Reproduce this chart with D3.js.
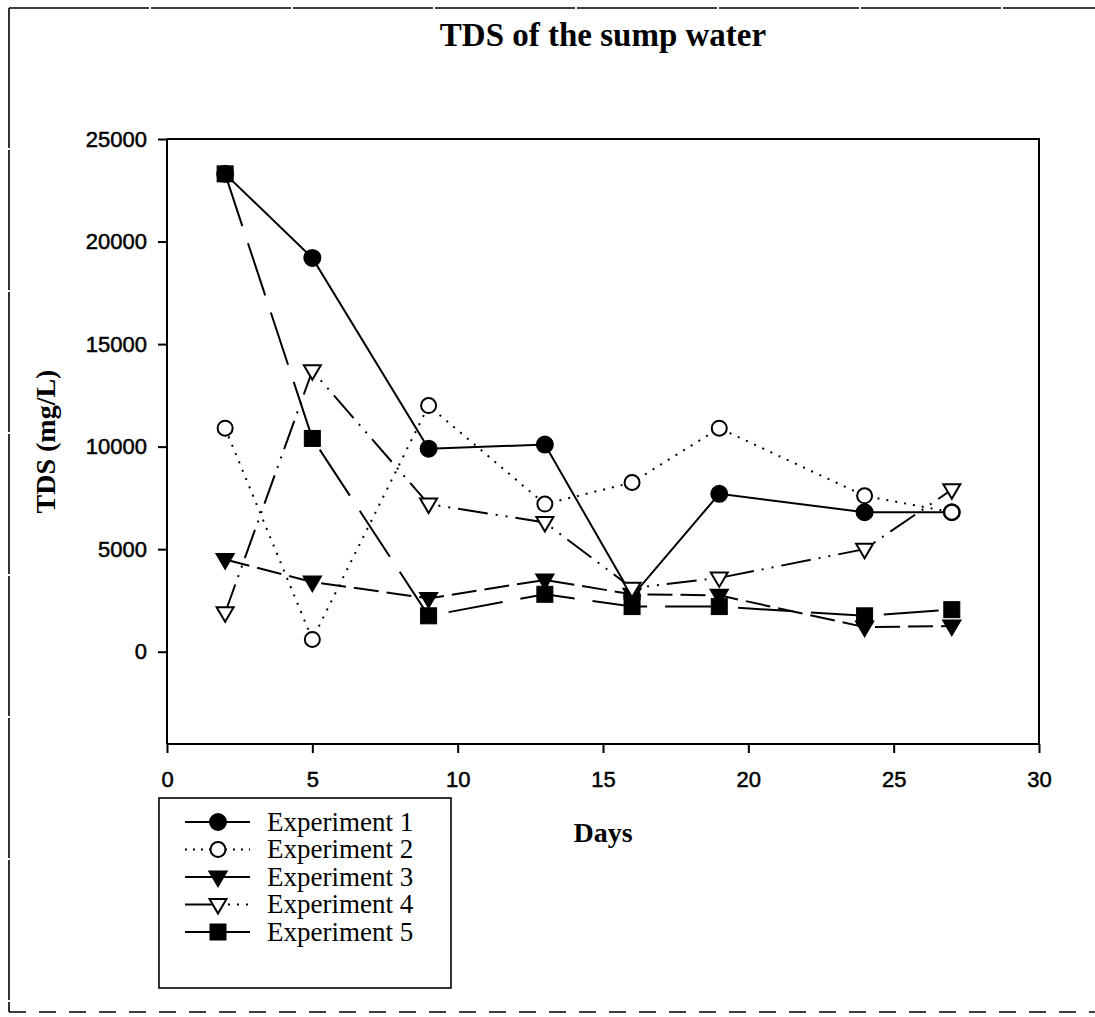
<!DOCTYPE html>
<html>
<head>
<meta charset="utf-8">
<script src="https://cdn.jsdelivr.net/npm/d3@7"></script>
<style>
  html, body { margin: 0; padding: 0; background: #fff; }
  svg { display: block; }
</style>
</head>
<body>
<svg id="chart" width="1095" height="1017"></svg>
<script>
// ---- data ----
const days = [2, 5, 9, 13, 16, 19, 24, 27];
const exp1 = [23300, 19200, 9900, 10100, 2700, 7700, 6800, 6800];
const exp2 = [10900, 600, 12000, 7200, 8250, 10900, 7600, 6800];
const exp3 = [4500, 3400, 2600, 3500, 2800, 2750, 1200, 1250];
const exp4 = [1900, 13700, 7200, 6300, 3100, 3600, 5000, 7900];
const exp5 = [23300, 10400, 1750, 2800, 2200, 2200, 1750, 2050];
const seriesNames = ["Experiment 1", "Experiment 2", "Experiment 3", "Experiment 4", "Experiment 5"];
const xTicks = [0, 5, 10, 15, 20, 25, 30];
const yTicks = [0, 5000, 10000, 15000, 20000, 25000];
const titleText = "TDS of the sump water";
const xLabel = "Days";
const yLabel = "TDS (mg/L)";

// ---- styles ----
const styles = [
  { dash: null,               marker: "circle",   fill: "#000" },
  { dash: "2,7",              marker: "circle",   fill: "#fff" },
  { dash: "25,8",             marker: "triangle", fill: "#000" },
  { dash: "30,8,2,8,2,8",     marker: "triangle", fill: "#fff" },
  { dash: "55,18",            marker: "square",   fill: "#000" }
];
const allSeries = [exp1, exp2, exp3, exp4, exp5];

const svg = d3.select("#chart");
const serif = "'Liberation Serif', 'Times New Roman', serif";
const sans = "'Liberation Sans', Arial, sans-serif";

// outer dashed frame
const frame = svg.append("g").attr("stroke", "#000").attr("stroke-width", 1.6).attr("fill", "none");
frame.append("line").attr("x1", 9).attr("y1", 8).attr("x2", 1095).attr("y2", 8).attr("stroke-dasharray", "140,2");
frame.append("line").attr("x1", 9).attr("y1", 8).attr("x2", 9).attr("y2", 1012).attr("stroke-dasharray", "140,2");
frame.append("line").attr("x1", 9).attr("y1", 1012).attr("x2", 1095).attr("y2", 1012).attr("stroke-dasharray", "17,13");

const L = 167, R = 1039, T = 139, B = 744;
const x = d3.scaleLinear().domain([0, 30]).range([L, R]);
const y = d3.scaleLinear().domain([-4500, 25000]).range([B, T]);

// plot frame (top & right)
svg.append("path")
  .attr("d", `M${L},${T}H${R}V${B}`)
  .attr("fill", "none").attr("stroke", "#000").attr("stroke-width", 2);

// axes
const xAxis = svg.append("g").attr("transform", `translate(0,${B})`)
  .call(d3.axisBottom(x).tickValues(xTicks).tickSize(9).tickPadding(18).tickSizeOuter(0));
const yAxis = svg.append("g").attr("transform", `translate(${L},0)`)
  .call(d3.axisLeft(y).tickValues(yTicks).tickSize(9).tickPadding(11).tickSizeOuter(0).tickFormat(d3.format("d")));
[xAxis, yAxis].forEach(a => {
  a.select(".domain").attr("stroke-width", 2);
  a.selectAll(".tick line").attr("stroke-width", 2);
  a.selectAll(".tick text").attr("font-family", sans).attr("font-size", 22)
    .attr("fill", "#000").attr("stroke", "#000").attr("stroke-width", 0.5);
});
xAxis.select(".domain").attr("d", `M${L},0H${R}`);
yAxis.select(".domain").attr("d", `M0,${B}V${T}`);

// title and labels
svg.append("text").attr("x", (L + R) / 2).attr("y", 46).attr("text-anchor", "middle")
  .attr("font-family", serif).attr("font-weight", "bold").attr("font-size", 33).text(titleText);
svg.append("text").attr("x", 603).attr("y", 842).attr("text-anchor", "middle")
  .attr("font-family", serif).attr("font-weight", "bold").attr("font-size", 28).text(xLabel);
svg.append("text").attr("transform", `translate(55,${(T + B) / 2}) rotate(-90)`).attr("text-anchor", "middle")
  .attr("font-family", serif).attr("font-weight", "bold").attr("font-size", 28).text(yLabel);

// marker drawer
function drawMarker(g, kind, fill, cx, cy) {
  if (kind === "circle") {
    g.append("circle").attr("cx", cx).attr("cy", cy).attr("r", fill === "#000" ? 8 : 7.5)
      .attr("fill", fill).attr("stroke", "#000").attr("stroke-width", 2);
  } else if (kind === "square") {
    g.append("rect").attr("x", cx - 8).attr("y", cy - 8).attr("width", 16).attr("height", 16)
      .attr("fill", fill).attr("stroke", "#000").attr("stroke-width", 1);
  } else {
    const w = 8.5, h1 = 5.5, h2 = 9;
    g.append("path").attr("d", `M${cx - w},${cy - h1}L${cx + w},${cy - h1}L${cx},${cy + h2}Z`)
      .attr("fill", fill).attr("stroke", "#000").attr("stroke-width", 2).attr("stroke-linejoin", "miter");
  }
}

const line = d3.line().x((d, i) => x(days[i])).y(d => y(d));
const plot = svg.append("g");
allSeries.forEach((vals, si) => {
  const st = styles[si];
  const g = plot.append("g");
  g.append("path").attr("d", line(vals)).attr("fill", "none").attr("stroke", "#000")
    .attr("stroke-width", 2).attr("stroke-dasharray", st.dash);
  vals.forEach((v, i) => drawMarker(g, st.marker, st.fill, x(days[i]), y(v)));
});

// legend
const lg = svg.append("g");
lg.append("rect").attr("x", 159).attr("y", 798).attr("width", 292).attr("height", 190)
  .attr("fill", "#fff").attr("stroke", "#000").attr("stroke-width", 1.6);
const legendDash = [null, "2,6", null, null, null];
seriesNames.forEach((name, i) => {
  const cy = 822 + i * 27.5;
  const st = styles[i];
  if (i === 3) {
    lg.append("line").attr("x1", 185).attr("x2", 218).attr("y1", cy).attr("y2", cy).attr("stroke", "#000").attr("stroke-width", 2);
    lg.append("line").attr("x1", 218).attr("x2", 250).attr("y1", cy).attr("y2", cy).attr("stroke", "#000").attr("stroke-width", 2).attr("stroke-dasharray", "2,7").attr("stroke-dashoffset", -10);
  } else {
    lg.append("line").attr("x1", 185).attr("x2", 250).attr("y1", cy).attr("y2", cy)
      .attr("stroke", "#000").attr("stroke-width", 2).attr("stroke-dasharray", legendDash[i]);
  }
  drawMarker(lg, st.marker, st.fill, 218, cy);
  lg.append("text").attr("x", 267).attr("y", cy).attr("dy", "0.33em")
    .attr("font-family", serif).attr("font-size", 27).text(name);
});
</script>
</body>
</html>
